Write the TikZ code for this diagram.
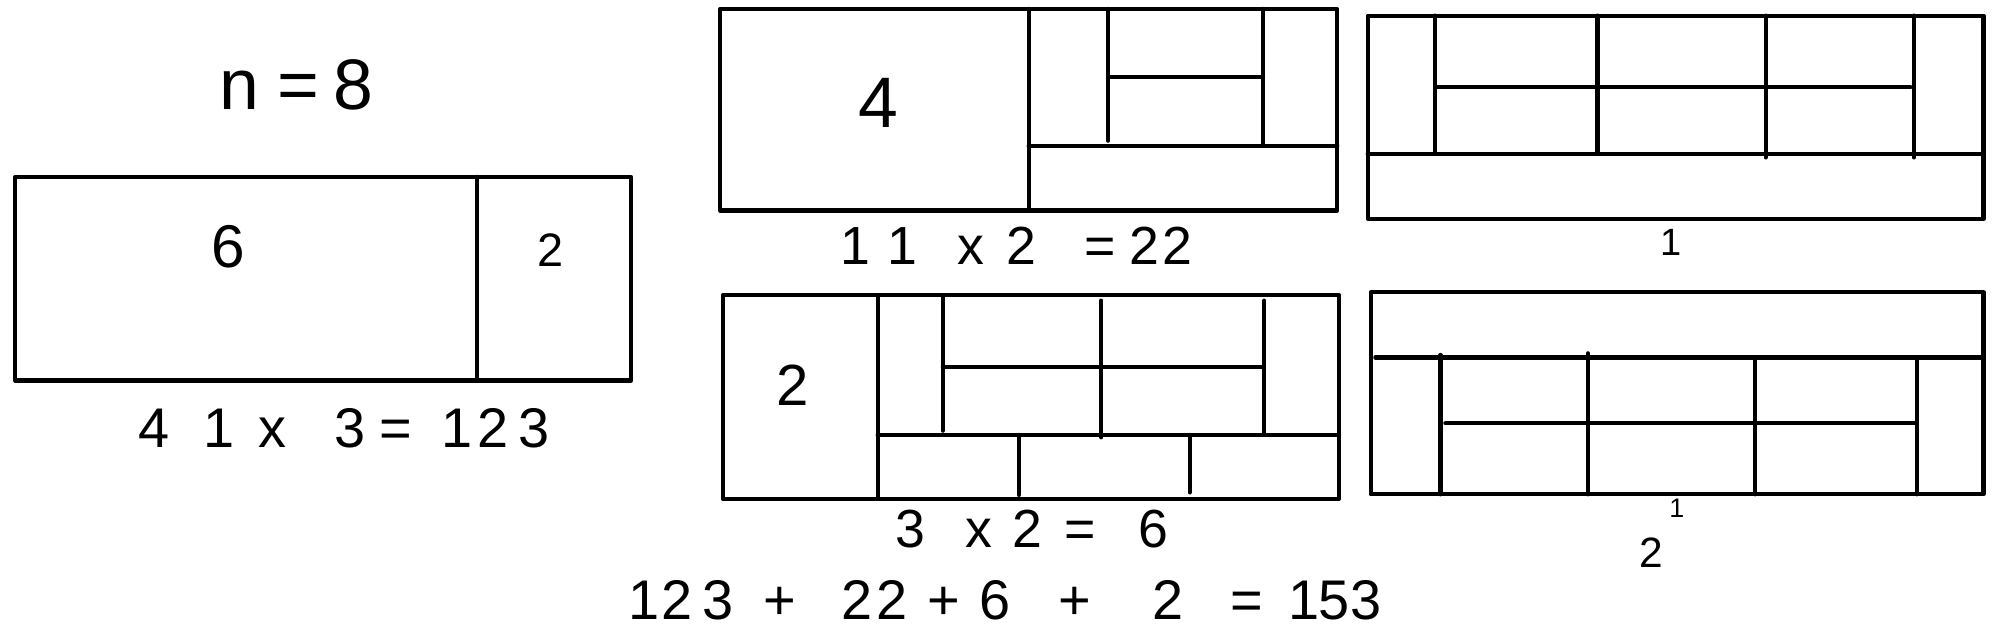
\documentclass[tikz,border=0pt]{standalone}
\usepackage{fontspec}
\setmainfont{Liberation Sans}
\newlength{\uu}\setlength{\uu}{0.02cm}
\newcommand{\hgap}[1]{\hspace*{#1\uu}}
\newcommand{\fsz}[1]{\fontsize{#1}{#1}\selectfont}
\begin{document}
\begin{tikzpicture}[x=0.02cm,y=-0.02cm,line width=1.9pt,line cap=round,line join=round,
  lbl/.style={inner sep=0pt,anchor=base west},
  num/.style={inner sep=0pt,anchor=base}]
\useasboundingbox (0,0) rectangle (1568,502);

% ---- left figure
\draw (12,139) rectangle (496,299);
\draw (375,139) -- (375,299);
\node[lbl,font=\fsz{32}] (neq) at (171.2,86) {n\hgap{14}=\hgap{10.8}8};
\node[num,font=\fsz{27}] (six) at (179.5,210) {6};
\node[num,font=\fsz{21}] (twoA) at (433,209.6) {2};
\node[lbl,font=\fsz{25}] (eqA) at (107.1,352) {4\hgap{26.8}1\hgap{19.1}x\hgap{37.7}3\hgap{11}=\hgap{22.4}1\hgap{4.2}2\hgap{8}3};

% ---- top middle figure
\draw (566,7) rectangle (1051,165.5);
\draw (808.5,7) -- (808.5,165.5);
\draw (808.5,114.5) -- (1051,114.5);
\draw (871,7) -- (871,110.6);
\draw (992.7,7) -- (992.7,114.5);
\draw (871,60.8) -- (992.7,60.8);
\node[num,font=\fsz{32}] (four) at (690,100) {4};
\node[lbl,font=\fsz{24}] (eqB) at (658.8,208) {1\hgap{13.5}1\hgap{32.1}x\hgap{17}2\hgap{37.6}=\hgap{11.2}2\hgap{2.5}2};

% ---- top right figure
\draw (1075,12.3) rectangle (1559,172);
\draw (1075,120.8) -- (1557,120.8);
\draw (1128,12.3) -- (1128,120.8);
\draw (1255.5,12.3) -- (1255.5,120.8);
\draw (1387.7,12.3) -- (1387.7,123.7);
\draw (1504.2,12.3) -- (1504.2,123.7);
\draw (1128,68.6) -- (1501.6,68.6);
\node[num,font=\fsz{17}] (oneC) at (1313.5,200.5) {1};

% ---- bottom middle figure
\draw (568,232) rectangle (1052.4,392);
\draw (689.8,232) -- (689.8,392);
\draw (689.8,341.9) -- (1052.4,341.9);
\draw (741,232) -- (741,338.5);
\draw (865.5,236.3) -- (865.5,343.7);
\draw (993.7,236.3) -- (993.7,341);
\draw (741,288.2) -- (992,288.2);
\draw (800.7,341.9) -- (800.7,389);
\draw (935,341.9) -- (935,387);
\node[num,font=\fsz{26}] (twoD) at (623,319) {2};
\node[lbl,font=\fsz{24}] (eqD) at (702.2,430) {3\hgap{31.2}x\hgap{16.5}2\hgap{17.1}=\hgap{33.8}6};

% ---- bottom right figure
\draw (1077.3,229.8) rectangle (1559,388.5);
\draw (1081,280.9) -- (1559,280.9);
\draw (1132.2,279) -- (1132.2,388.5);
\draw (1248,277.7) -- (1248,388.5);
\draw (1379.6,280.9) -- (1379.6,388.5);
\draw (1506.8,280.9) -- (1506.8,388.5);
\draw (1136,332.7) -- (1505.8,332.7);
\node[num,font=\fsz{12}] (tickE) at (1318,407) {1};
\node[num,font=\fsz{19}] (twoE) at (1298,446) {2};

% ---- total
\node[lbl,font=\fsz{25}] (total) at (492.4,487) {1\hgap{1.2}2\hgap{8}3\hgap{23.6}+\hgap{35.5}2\hgap{3.5}2\hgap{15.2}+\hgap{15.1}6\hgap{38.1}+\hgap{48}2\hgap{36.6}=\hgap{20.4}1\hgap{-1.2}5\hgap{1}3};
\end{tikzpicture}
\end{document}
